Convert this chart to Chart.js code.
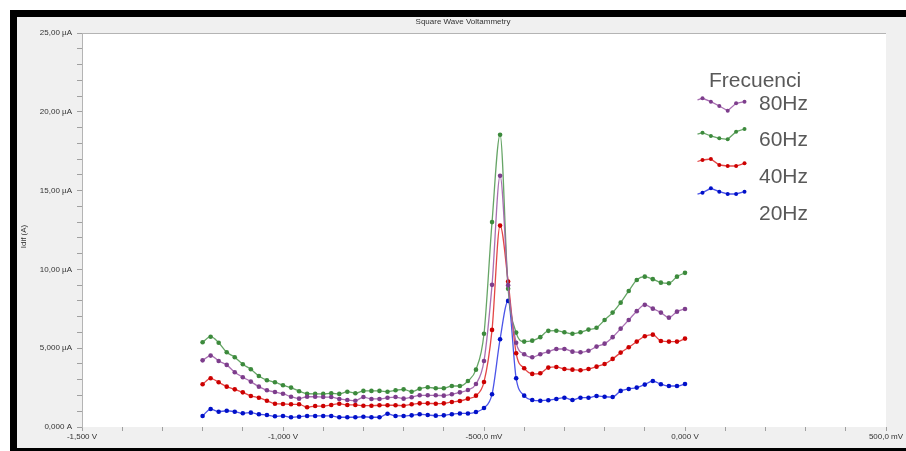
<!DOCTYPE html>
<html><head><meta charset="utf-8">
<script src="https://cdn.jsdelivr.net/npm/chart.js@4"></script>
<style>html,body{margin:0;padding:0;background:#fff;overflow:hidden}canvas{display:block}</style>
</head><body>
<canvas id="c" width="906" height="451"></canvas>
<script>
const potentials = [-1.20,-1.18,-1.16,-1.14,-1.12,-1.10,-1.08,-1.06,-1.04,-1.02,
  -1.00,-0.98,-0.96,-0.94,-0.92,-0.90,-0.88,-0.86,-0.84,-0.82,
  -0.80,-0.78,-0.76,-0.74,-0.72,-0.70,-0.68,-0.66,-0.64,-0.62,
  -0.60,-0.58,-0.56,-0.54,-0.52,-0.50,-0.48,-0.46,-0.44,-0.42,
  -0.40,-0.38,-0.36,-0.34,-0.32,-0.30,-0.28,-0.26,-0.24,-0.22,
  -0.20,-0.18,-0.16,-0.14,-0.12,-0.10,-0.08,-0.06,-0.04,-0.02,0.00];

const current80Hz = [4.23,4.53,4.19,3.94,3.47,3.16,2.88,2.56,2.33,2.22,
  2.11,1.92,1.80,1.92,1.92,1.90,1.90,1.78,1.71,1.67,
  1.90,1.78,1.78,1.86,1.90,1.80,1.89,2.01,2.01,2.01,
  1.99,2.08,2.20,2.35,2.73,4.19,9.02,15.94,9.00,5.35,
  4.62,4.43,4.62,4.78,4.95,4.95,4.78,4.74,4.84,5.10,
  5.29,5.70,6.24,6.79,7.35,7.75,7.51,7.26,6.94,7.32,7.49];

const current60Hz = [5.38,5.73,5.35,4.74,4.43,3.98,3.66,3.24,2.97,2.84,
  2.65,2.50,2.27,2.11,2.10,2.10,2.14,2.10,2.24,2.14,
  2.29,2.29,2.29,2.24,2.33,2.39,2.24,2.43,2.52,2.46,
  2.46,2.60,2.60,2.92,3.64,5.92,13.00,18.54,8.78,5.99,
  5.42,5.48,5.70,6.10,6.11,6.01,5.92,6.01,6.18,6.30,
  6.79,7.26,7.89,8.63,9.33,9.54,9.38,9.16,9.12,9.54,9.78];

const current40Hz = [2.71,3.09,2.84,2.56,2.39,2.20,1.97,1.86,1.67,1.48,
  1.46,1.44,1.44,1.25,1.33,1.33,1.40,1.48,1.40,1.40,
  1.35,1.35,1.38,1.38,1.38,1.35,1.44,1.50,1.50,1.48,
  1.50,1.59,1.65,1.80,1.99,2.86,6.16,12.78,9.23,4.68,
  3.73,3.37,3.41,3.77,3.81,3.68,3.64,3.60,3.68,3.83,
  4.00,4.32,4.72,5.06,5.42,5.76,5.86,5.46,5.42,5.42,5.61];

const current20Hz = [0.70,1.14,0.97,1.03,0.97,0.87,0.91,0.81,0.76,0.68,
  0.70,0.62,0.65,0.70,0.70,0.70,0.70,0.62,0.62,0.62,
  0.65,0.62,0.62,0.84,0.70,0.70,0.74,0.81,0.76,0.72,
  0.74,0.81,0.86,0.86,0.95,1.21,2.08,5.57,8.00,3.09,
  1.99,1.71,1.67,1.70,1.78,1.86,1.71,1.86,1.86,1.97,
  1.92,1.90,2.29,2.41,2.50,2.69,2.92,2.71,2.60,2.60,2.73];

const seriesNames = ['80Hz','60Hz','40Hz','20Hz'];
const xTickValues = [-1.5,-1.0,-0.5,0.0,0.5];
const xTickLabels = ['-1,500 V','-1,000 V','-500,0 mV','0,000 V','500,0 mV'];
const yTickValues = [0,5,10,15,20,25];
const yTickLabels = ['0,000 A','5,000 µA','10,00 µA','15,00 µA','20,00 µA','25,00 µA'];
const chartTitle = 'Square Wave Voltammetry';
const yAxisTitle = 'Idif (A)';
const legendTitle = 'Frecuenci';

const seriesData = [current80Hz, current60Hz, current40Hz, current20Hz];
const lineColors = ['rgba(160,95,170,0.9)','rgba(85,155,85,0.9)','rgba(225,50,50,0.9)','rgba(55,65,230,0.9)'];
const markColors = ['#7d3d8c','#3c8a3c','#cc0000','#0010c8'];
const FONT = '"Liberation Sans", Arial, sans-serif';

function lookupLabel(v, vals, labels){
  for (let i=0;i<vals.length;i++){ if (Math.abs(vals[i]-v) < 1e-6) return labels[i]; }
  return '';
}

const datasets = seriesNames.map((name,k)=>({
  label: name,
  data: potentials.map((p,i)=>({x:p, y:seriesData[k][i]})),
  borderColor: lineColors[k],
  borderWidth: 1.3,
  pointRadius: 2.3,
  pointBackgroundColor: markColors[k],
  pointBorderColor: markColors[k],
  pointBorderWidth: 0,
  cubicInterpolationMode: 'monotone',
  fill: false
}));

// legend icon shapes (decorative wiggles, pixel offsets)
const legendIconShapes = [
  [0,3.4,7.7,12.4,5,3.4],
  [3.7,7,9.3,10.3,2.7,0],
  [1,0,6,7,7,4.3],
  [4.4,0,3.4,5.7,5.7,3.4]
];

const decor = {
  id:'decor',
  beforeDraw(chart){
    const ctx = chart.ctx, ca = chart.chartArea;
    ctx.save();
    ctx.fillStyle = '#ffffff'; ctx.fillRect(0,0,chart.width,chart.height);
    ctx.fillStyle = '#f0f0f0'; ctx.fillRect(17,17,chart.width-17,chart.height-17);
    ctx.fillStyle = '#ffffff'; ctx.fillRect(ca.left,ca.top,ca.right-ca.left,ca.bottom-ca.top);
    ctx.restore();
  },
  afterDraw(chart){
    const ctx = chart.ctx, ca = chart.chartArea;
    ctx.save();
    // top border of plot
    ctx.strokeStyle = '#b4b4b4'; ctx.lineWidth = 1;
    ctx.beginPath(); ctx.moveTo(ca.left, ca.top+0.5); ctx.lineTo(ca.right, ca.top+0.5); ctx.stroke();
    // title
    ctx.fillStyle = '#333';
    ctx.font = '8px ' + FONT;
    ctx.textAlign = 'center'; ctx.textBaseline = 'middle';
    ctx.fillText(chartTitle, 463, 21.5);
    // y axis title
    ctx.save();
    ctx.translate(23.5, 236.5); ctx.rotate(-Math.PI/2);
    ctx.fillText(yAxisTitle, 0, 0);
    ctx.restore();
    // black frame
    ctx.fillStyle = '#000';
    ctx.fillRect(10,10,chart.width-10,7);
    ctx.fillRect(10,10,7,chart.height-10);
    ctx.fillRect(10,448,chart.width-10,3);
    // legend
    ctx.fillStyle = '#595959';
    ctx.font = '21px ' + FONT;
    ctx.textAlign = 'left'; ctx.textBaseline = 'alphabetic';
    ctx.fillText(legendTitle, 709, 87);
    const labelBase = [110, 146, 182.5, 220];
    const iconTop = [98.3, 129, 159, 188.3];
    for (let k=0;k<seriesNames.length;k++){
      ctx.fillStyle = '#595959';
      ctx.fillText(seriesNames[k], 759, labelBase[k]);
      const sh = legendIconShapes[k];
      const pts = sh.map((o,j)=>[702.5 + j*8.4, iconTop[k] + o]);
      ctx.strokeStyle = lineColors[k]; ctx.lineWidth = 1.3;
      ctx.beginPath();
      ctx.moveTo(pts[0][0]-5, pts[0][1]+1.5);
      pts.forEach(p=>ctx.lineTo(p[0],p[1]));
      ctx.stroke();
      ctx.fillStyle = markColors[k];
      pts.forEach(p=>{ctx.beginPath(); ctx.arc(p[0],p[1],2,0,Math.PI*2); ctx.fill();});
    }
    ctx.restore();
  }
};

new Chart(document.getElementById('c'), {
  type:'line',
  data:{datasets},
  plugins:[decor],
  options:{
    responsive:false, animation:false, devicePixelRatio:1,
    layout:{padding:{left:0, top:33, right:20, bottom:0}},
    plugins:{legend:{display:false}, tooltip:{enabled:false}, title:{display:false}},
    scales:{
      x:{
        type:'linear', min:-1.5, max:0.5,
        afterBuildTicks(s){ const t=[]; for(let i=-15;i<=5;i++) t.push({value:i/10}); s.ticks=t; },
        afterFit(s){ s.height = 24; },
        ticks:{autoSkip:false, maxRotation:0, padding:1, color:'#333', font:{family:FONT, size:8},
          callback:(v)=>lookupLabel(v, xTickValues, xTickLabels)},
        grid:{drawOnChartArea:false, drawTicks:true, tickLength:4, color:'#a0a0a0'},
        border:{display:false}
      },
      y:{
        type:'linear', min:0, max:25,
        afterBuildTicks(s){ const t=[]; for(let i=0;i<=25;i++) t.push({value:i}); s.ticks=t; },
        afterFit(s){ s.width = 82; },
        ticks:{autoSkip:false, padding:5, color:'#333', font:{family:FONT, size:8},
          callback:(v)=>lookupLabel(v, yTickValues, yTickLabels)},
        grid:{drawOnChartArea:false, drawTicks:true, tickLength:5, color:'#a0a0a0'},
        border:{display:true, color:'#b4b4b4', width:1}
      }
    }
  }
});
</script>
</body></html>
